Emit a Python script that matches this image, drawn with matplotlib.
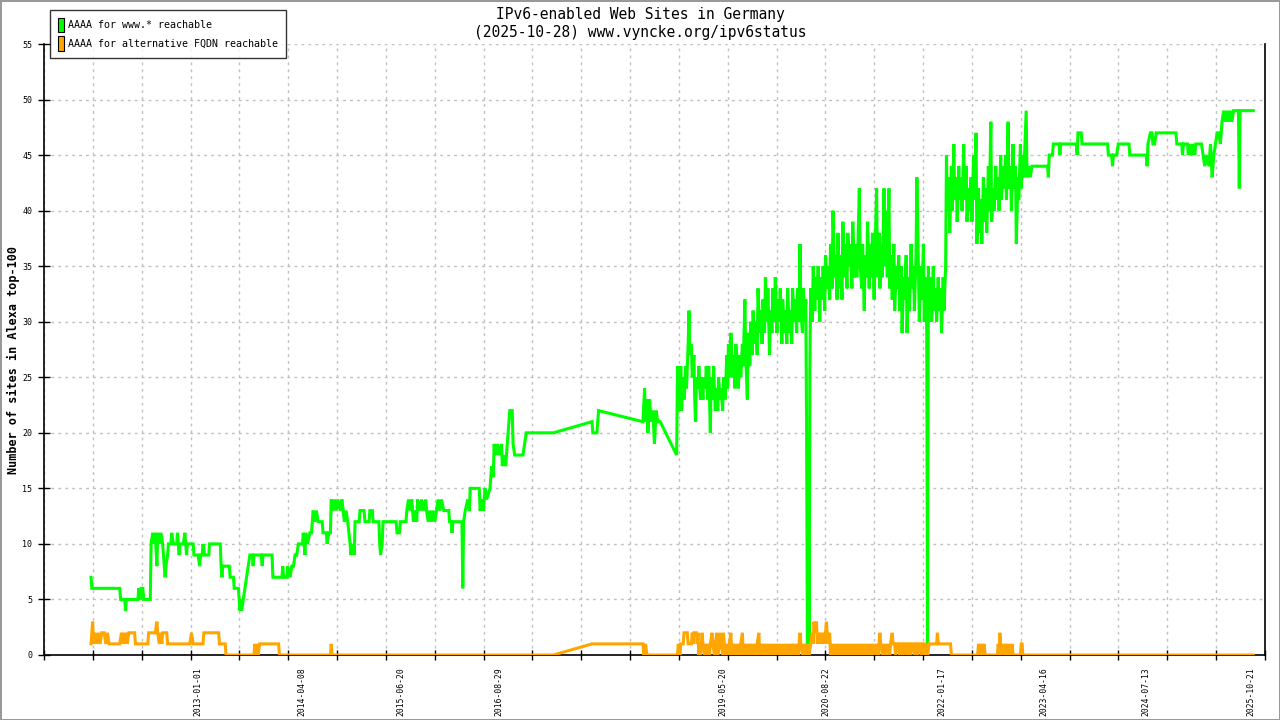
import datetime as dt
import numpy as np
import matplotlib
matplotlib.use("Agg")
import matplotlib.pyplot as plt
import matplotlib.dates as mdates
from matplotlib.patches import Patch

# Time is given in decimal years, values are number of sites
green_t = [
    2011.70, 2011.71, 2012.05, 2012.06, 2012.11, 2012.12, 2012.13, 2012.27, 2012.28, 2012.30,
    2012.31, 2012.33, 2012.34, 2012.42, 2012.43, 2012.45, 2012.46, 2012.48, 2012.50, 2012.51,
    2012.53, 2012.55, 2012.57, 2012.59, 2012.60, 2012.61, 2012.63, 2012.64, 2012.67, 2012.68,
    2012.70, 2012.74, 2012.75, 2012.77, 2012.78, 2012.82, 2012.84, 2012.86, 2012.87, 2012.94,
    2012.95, 2013.00, 2013.02, 2013.03, 2013.05, 2013.06, 2013.08, 2013.13, 2013.14, 2013.26,
    2013.27, 2013.28, 2013.29, 2013.30, 2013.38, 2013.39, 2013.43, 2013.44, 2013.49, 2013.51,
    2013.52, 2013.53, 2013.55, 2013.57, 2013.59, 2013.61, 2013.63, 2013.66, 2013.67, 2013.68,
    2013.77, 2013.78, 2013.79, 2013.90, 2013.91, 2014.02, 2014.03, 2014.04, 2014.08, 2014.09,
    2014.12, 2014.14, 2014.16, 2014.18, 2014.20, 2014.22, 2014.27, 2014.28, 2014.30, 2014.31,
    2014.33, 2014.36, 2014.38, 2014.40, 2014.42, 2014.44, 2014.46, 2014.51, 2014.52, 2014.56,
    2014.57, 2014.59, 2014.61, 2014.62, 2014.64, 2014.66, 2014.68, 2014.70, 2014.73, 2014.75,
    2014.78, 2014.80, 2014.82, 2014.85, 2014.86, 2014.88, 2014.90, 2014.91, 2014.96, 2014.97,
    2015.02, 2015.03, 2015.08, 2015.09, 2015.12, 2015.13, 2015.20, 2015.21, 2015.22, 2015.24,
    2015.25, 2015.41, 2015.42, 2015.45, 2015.46, 2015.53, 2015.54, 2015.56, 2015.58, 2015.60,
    2015.62, 2015.64, 2015.66, 2015.67, 2015.70, 2015.72, 2015.74, 2015.77, 2015.78, 2015.80,
    2015.82, 2015.84, 2015.86, 2015.88, 2015.90, 2015.92, 2015.94, 2015.96, 2015.99, 2016.05,
    2016.06, 2016.08, 2016.09, 2016.10, 2016.21, 2016.22, 2016.23, 2016.25, 2016.28, 2016.30,
    2016.31, 2016.36, 2016.42, 2016.43, 2016.45, 2016.47, 2016.49, 2016.51, 2016.55, 2016.57,
    2016.59, 2016.60, 2016.62, 2016.64, 2016.66, 2016.69, 2016.70, 2016.72, 2016.74, 2016.76,
    2016.78, 2016.79, 2016.82, 2016.83, 2016.85, 2016.87, 2016.95, 2016.97, 2016.99, 2017.32,
    2017.79, 2017.80, 2017.85, 2017.87, 2018.41, 2018.43, 2018.44, 2018.46, 2018.47, 2018.49,
    2018.51, 2018.53, 2018.55, 2018.57, 2018.59, 2018.62, 2018.82,
    2018.83, 2018.84, 2018.85, 2018.86, 2018.87, 2018.88, 2018.90, 2018.91, 2018.93, 2018.94,
    2018.95, 2018.96, 2018.97, 2018.98, 2019.00, 2019.01, 2019.03, 2019.04, 2019.05, 2019.06,
    2019.08, 2019.09, 2019.11, 2019.12, 2019.14, 2019.15, 2019.17, 2019.18, 2019.20, 2019.21,
    2019.23, 2019.24, 2019.26, 2019.27, 2019.29, 2019.30, 2019.32, 2019.33, 2019.35, 2019.36,
    2019.38, 2019.39, 2019.41, 2019.43, 2019.44, 2019.45, 2019.47, 2019.48, 2019.50, 2019.51,
    2019.53, 2019.54, 2019.56, 2019.57, 2019.59, 2019.60, 2019.62, 2019.63, 2019.65, 2019.66,
    2019.68, 2019.69, 2019.71, 2019.72, 2019.74, 2019.75, 2019.77, 2019.78, 2019.80, 2019.81,
    2019.83, 2019.84, 2019.86, 2019.87, 2019.89, 2019.90, 2019.92, 2019.93, 2019.95, 2019.96,
    2019.98, 2019.99, 2020.01, 2020.02, 2020.04, 2020.05, 2020.07, 2020.08, 2020.10, 2020.11,
    2020.13, 2020.14, 2020.16, 2020.17, 2020.19, 2020.20, 2020.22, 2020.23, 2020.25, 2020.26,
    2020.28, 2020.29, 2020.31, 2020.32, 2020.33, 2020.35, 2020.36, 2020.38, 2020.39, 2020.40,
    2020.41, 2020.42, 2020.43, 2020.44, 2020.45, 2020.47, 2020.48, 2020.50, 2020.51, 2020.53,
    2020.54, 2020.56, 2020.57, 2020.59, 2020.60, 2020.62, 2020.63, 2020.65, 2020.66, 2020.68,
    2020.69, 2020.71, 2020.72, 2020.74, 2020.75, 2020.77, 2020.78, 2020.80, 2020.81, 2020.83,
    2020.84, 2020.86, 2020.87, 2020.89, 2020.90, 2020.92, 2020.93, 2020.95, 2020.96, 2020.98,
    2020.99, 2021.01, 2021.02, 2021.04, 2021.05, 2021.07, 2021.08, 2021.10, 2021.11, 2021.13,
    2021.14, 2021.16, 2021.17, 2021.19, 2021.20, 2021.22, 2021.23, 2021.25, 2021.26, 2021.28,
    2021.29, 2021.31, 2021.32, 2021.34, 2021.35, 2021.37, 2021.38, 2021.40, 2021.41, 2021.43,
    2021.44, 2021.46, 2021.47, 2021.49, 2021.50, 2021.52, 2021.53, 2021.55, 2021.56, 2021.58,
    2021.59, 2021.61, 2021.62, 2021.64, 2021.65, 2021.67, 2021.68, 2021.70, 2021.71, 2021.73,
    2021.74, 2021.76, 2021.77, 2021.79, 2021.80, 2021.82, 2021.83, 2021.85, 2021.86, 2021.87,
    2021.88, 2021.89, 2021.91, 2021.92, 2021.94, 2021.95, 2021.97, 2021.98, 2022.00, 2022.01,
    2022.03, 2022.04, 2022.06, 2022.07, 2022.09, 2022.10, 2022.11, 2022.13, 2022.14, 2022.16,
    2022.17, 2022.19, 2022.20, 2022.22, 2022.23, 2022.25, 2022.26, 2022.28, 2022.29, 2022.31,
    2022.32, 2022.34, 2022.35, 2022.37, 2022.38, 2022.40, 2022.41, 2022.43, 2022.44, 2022.46,
    2022.47, 2022.49, 2022.50, 2022.52, 2022.53, 2022.55, 2022.56, 2022.58, 2022.59, 2022.61,
    2022.62, 2022.64, 2022.65, 2022.67, 2022.68, 2022.70, 2022.71, 2022.73, 2022.74, 2022.76,
    2022.77, 2022.79, 2022.80, 2022.82, 2022.83, 2022.85, 2022.86, 2022.88, 2022.89, 2022.91,
    2022.92, 2022.94, 2022.95, 2022.97, 2022.98, 2023.00, 2023.01, 2023.03, 2023.04, 2023.06,
    2023.07, 2023.08, 2023.10, 2023.12, 2023.14,
    2023.33, 2023.34, 2023.35, 2023.39, 2023.40, 2023.47, 2023.48, 2023.49, 2023.68, 2023.69,
    2023.70, 2023.74, 2023.75, 2024.06, 2024.07, 2024.11, 2024.12, 2024.13, 2024.17, 2024.19,
    2024.32, 2024.33, 2024.53, 2024.54, 2024.55, 2024.58, 2024.60, 2024.61, 2024.63, 2024.65,
    2024.89, 2024.90, 2024.96, 2024.97, 2024.98, 2025.03, 2025.04, 2025.05, 2025.08, 2025.09,
    2025.12, 2025.13, 2025.20, 2025.22, 2025.24, 2025.26, 2025.29, 2025.31, 2025.33, 2025.35,
    2025.37, 2025.39, 2025.41, 2025.43, 2025.45, 2025.47, 2025.49, 2025.51, 2025.53, 2025.55,
    2025.57, 2025.59, 2025.65, 2025.66, 2025.67, 2025.83,
]
green_v = [
    7, 6, 6, 5, 5, 4, 5, 5, 6, 5,
    6, 6, 5, 5, 10, 11, 10, 11, 8, 11,
    10, 11, 10, 8, 7, 8, 9, 10, 10, 11,
    10, 10, 11, 9, 10, 10, 11, 9, 10, 10,
    9, 9, 8, 9, 9, 10, 9, 9, 10, 10,
    10, 8, 7, 8, 8, 7, 7, 6, 6, 4,
    5, 4, 5, 6, 7, 8, 9, 9, 8, 9,
    9, 8, 9, 9, 7, 7, 8, 7, 7, 8,
    7, 8, 8, 9, 9, 10, 10, 11, 9, 11,
    10, 11, 11, 13, 12, 13, 12, 12, 11, 11,
    10, 11, 11, 14, 13, 14, 13, 14, 13, 14,
    12, 13, 12, 10, 9, 10, 9, 12, 12, 13,
    13, 12, 12, 13, 13, 12, 12, 10, 9, 10,
    12, 12, 11, 11, 12, 12, 13, 14, 13, 14,
    12, 13, 12, 14, 13, 14, 13, 14, 13, 12,
    13, 12, 13, 12, 13, 14, 13, 14, 13, 13,
    12, 12, 11, 12, 12, 6, 12, 13, 14, 13,
    15, 15, 15, 13, 14, 13, 15, 14, 15, 17,
    16, 19, 18, 19, 18, 19, 17, 18, 17, 19,
    21, 22, 22, 19, 18, 18, 18, 19, 20, 20,
    21, 20, 20, 22, 21, 24, 21, 23, 20, 23,
    21, 22, 19, 22, 21, 21, 18,
    26, 22, 25, 23, 26, 22, 25, 23, 26, 24,
    26, 28, 31, 27, 28, 25, 27, 23, 21, 25,
    24, 26, 23, 25, 23, 25, 24, 26, 23, 26,
    20, 25, 23, 26, 22, 24, 22, 25, 23, 24,
    22, 25, 23, 27, 24, 28, 25, 29, 25, 27,
    24, 28, 26, 24, 27, 25, 28, 26, 32, 27,
    23, 29, 26, 30, 27, 31, 28, 30, 27, 33,
    29, 31, 28, 32, 29, 34, 30, 33, 27, 31,
    29, 33, 30, 34, 29, 32, 30, 33, 28, 32,
    29, 31, 28, 33, 29, 31, 28, 33, 30, 32,
    29, 33, 30, 37, 31, 29, 33, 30, 32, 20,
    0, 15, 0, 26, 33, 30, 35, 31, 34, 32,
    35, 30, 34, 32, 35, 31, 36, 33, 35, 32,
    37, 33, 40, 34, 36, 32, 38, 33, 36, 32,
    39, 34, 37, 33, 38, 35, 37, 33, 39, 34,
    37, 34, 36, 42, 35, 33, 37, 31, 36, 34,
    39, 33, 37, 34, 38, 32, 36, 42, 34, 38,
    33, 37, 34, 42, 35, 40, 34, 42, 33, 36,
    32, 37, 31, 35, 33, 36, 31, 35, 29, 34,
    32, 36, 29, 34, 31, 37, 33, 35, 31, 36,
    43, 34, 30, 35, 32, 37, 30, 34, 29, 0,
    35, 31, 34, 30, 35, 31, 33, 30, 34, 31,
    33, 29, 34, 31, 35, 45, 40, 43, 38, 44,
    40, 46, 41, 43, 39, 44, 41, 43, 40, 46,
    41, 44, 39, 42, 40, 43, 39, 45, 41, 47,
    37, 42, 38, 41, 37, 43, 39, 42, 38, 44,
    40, 48, 39, 42, 40, 44, 41, 43, 40, 45,
    41, 44, 42, 45, 41, 48, 42, 44, 40, 46,
    42, 44, 37, 43, 41, 46, 42, 45, 43, 47,
    49, 43, 44, 43, 44,
    44, 43, 45, 45, 46, 46, 45, 46, 46, 45,
    47, 47, 46, 46, 45, 45, 44, 45, 45, 46,
    46, 45, 45, 44, 46, 47, 47, 46, 46, 47,
    47, 46, 46, 45, 46, 46, 45, 46, 45, 46,
    45, 46, 46, 45, 44, 45, 44, 46, 43, 45,
    46, 47, 47, 46, 48, 49, 48, 49, 48, 49,
    48, 49, 49, 42, 49, 49,
]

orange_t = [
    2011.70, 2011.71, 2011.72, 2011.73, 2011.75, 2011.77, 2011.79, 2011.81, 2011.83, 2011.86,
    2011.88, 2011.90, 2011.92, 2012.05, 2012.07, 2012.08, 2012.10, 2012.11, 2012.13, 2012.14,
    2012.16, 2012.23, 2012.24, 2012.39, 2012.40, 2012.48, 2012.50, 2012.51, 2012.53, 2012.55,
    2012.56, 2012.57, 2012.62, 2012.63, 2012.90, 2012.92, 2012.94, 2013.06, 2013.07, 2013.25,
    2013.26, 2013.33, 2013.34, 2013.68, 2013.69, 2013.70, 2013.72, 2013.73, 2013.75, 2013.98,
    2013.99, 2014.61, 2014.62, 2014.63, 2017.32, 2017.79, 2018.41, 2018.42, 2018.44, 2018.46,
    2018.83,
    2018.84, 2018.86, 2018.87, 2018.90, 2018.91, 2018.95, 2018.96, 2019.00, 2019.01, 2019.02,
    2019.03, 2019.06, 2019.07, 2019.08, 2019.09, 2019.10, 2019.11, 2019.12, 2019.13, 2019.14,
    2019.16, 2019.17, 2019.19, 2019.20, 2019.22, 2019.23, 2019.25, 2019.26, 2019.28, 2019.29,
    2019.31, 2019.32, 2019.34, 2019.35, 2019.36, 2019.38, 2019.39, 2019.40, 2019.42, 2019.43,
    2019.45, 2019.46, 2019.48, 2019.49, 2019.51, 2019.52, 2019.54, 2019.56, 2019.57, 2019.59,
    2019.60, 2019.62, 2019.63, 2019.65, 2019.66, 2019.68, 2019.70, 2019.71, 2019.73, 2019.74,
    2019.76, 2019.77, 2019.79, 2019.80, 2019.82, 2019.83, 2019.85, 2019.86, 2019.88, 2019.90,
    2019.91, 2019.93, 2019.94, 2019.96, 2019.97, 2019.99, 2020.00, 2020.02, 2020.03, 2020.05,
    2020.06, 2020.08, 2020.09, 2020.11, 2020.13, 2020.14, 2020.16, 2020.18, 2020.19, 2020.21,
    2020.22, 2020.24, 2020.25, 2020.27, 2020.28, 2020.30, 2020.31, 2020.32, 2020.33, 2020.35,
    2020.36, 2020.38, 2020.39, 2020.40, 2020.42, 2020.43, 2020.45, 2020.47, 2020.48, 2020.49,
    2020.50, 2020.52, 2020.53, 2020.55, 2020.56, 2020.58, 2020.59, 2020.61, 2020.62, 2020.64,
    2020.65, 2020.66, 2020.68, 2020.69, 2020.71, 2020.72, 2020.74, 2020.76, 2020.77, 2020.79,
    2020.80, 2020.82, 2020.83, 2020.85, 2020.86, 2020.88, 2020.89, 2020.91, 2020.92, 2020.94,
    2020.95, 2020.97, 2020.98, 2021.00, 2021.01, 2021.03, 2021.04, 2021.06, 2021.07, 2021.09,
    2021.10, 2021.12, 2021.13, 2021.15, 2021.16, 2021.18, 2021.19, 2021.21, 2021.22, 2021.24,
    2021.25, 2021.27, 2021.28, 2021.29, 2021.30, 2021.32, 2021.33, 2021.35, 2021.36, 2021.38,
    2021.39, 2021.41, 2021.42, 2021.44, 2021.45, 2021.47, 2021.48, 2021.50, 2021.51, 2021.53,
    2021.54, 2021.56, 2021.57, 2021.59, 2021.60, 2021.62, 2021.63, 2021.65, 2021.66, 2021.68,
    2021.69, 2021.71, 2021.72, 2021.74, 2021.75, 2021.77, 2021.78, 2021.80, 2021.81, 2021.83,
    2021.84, 2021.86, 2021.87, 2021.89, 2021.90, 2021.98, 2021.99, 2022.00, 2022.01, 2022.15,
    2022.16, 2022.48, 2022.49, 2022.50, 2022.51, 2022.53, 2022.54, 2022.55, 2022.56, 2022.57,
    2022.58, 2022.72, 2022.73, 2022.74, 2022.75, 2022.76, 2022.78, 2022.79, 2022.80, 2022.82,
    2022.83, 2022.84, 2022.86, 2022.87, 2022.88, 2022.90, 2022.91, 2022.92, 2023.00, 2023.01,
    2023.02, 2023.03, 2023.04, 2025.83,
]
orange_v = [
    1, 2, 3, 1, 2, 1, 2, 1, 2, 2,
    1, 2, 1, 1, 2, 1, 2, 1, 2, 1,
    2, 2, 1, 1, 2, 2, 3, 2, 1, 2,
    1, 2, 2, 1, 1, 2, 1, 1, 2, 2,
    1, 1, 0, 0, 1, 0, 1, 0, 1, 1,
    0, 0, 1, 0, 0, 1, 1, 0, 1, 0,
    0,
    1, 0, 1, 1, 2, 2, 1, 1, 2, 1,
    2, 2, 1, 2, 0, 1, 0, 1, 2, 1,
    0, 1, 0, 1, 0, 1, 2, 1, 0, 1,
    2, 0, 1, 2, 1, 0, 2, 1, 0, 1,
    0, 1, 2, 0, 1, 0, 1, 0, 1, 0,
    1, 2, 0, 1, 0, 1, 0, 1, 0, 1,
    0, 1, 0, 1, 2, 0, 1, 0, 1, 0,
    1, 0, 1, 0, 1, 0, 1, 0, 1, 0,
    1, 0, 1, 0, 1, 0, 1, 0, 1, 0,
    1, 0, 1, 0, 1, 0, 1, 2, 1, 0,
    1, 0, 1, 0, 1, 0, 1, 2, 1, 3,
    2, 3, 1, 2, 1, 2, 1, 2, 1, 3,
    2, 1, 2, 0, 1, 0, 1, 0, 1, 0,
    1, 0, 1, 0, 1, 0, 1, 0, 1, 0,
    1, 0, 1, 0, 1, 0, 1, 0, 1, 0,
    1, 0, 1, 0, 1, 0, 1, 0, 1, 0,
    1, 0, 1, 2, 1, 0, 1, 0, 1, 0,
    1, 0, 1, 2, 1, 1, 0, 1, 1, 0,
    1, 1, 0, 1, 1, 0, 1, 1, 0, 1,
    1, 0, 1, 1, 0, 1, 1, 0, 1, 1,
    0, 1, 0, 1, 1, 1, 2, 1, 1, 1,
    0, 0, 1, 0, 1, 0, 1, 0, 1, 0,
    0, 0, 1, 0, 2, 1, 0, 1, 0, 1,
    0, 1, 0, 1, 0, 1, 0, 0, 0, 1,
    1, 0, 0, 0,
]

label_dates = ["2013-01-01", "2014-04-08", "2015-06-20", "2016-08-29", "2019-05-20",
               "2020-08-22", "2022-01-17", "2023-04-16", "2024-07-13", "2025-10-21"]

title = "IPv6-enabled Web Sites in Germany\n(2025-10-28) www.vyncke.org/ipv6status"
ylabel = "Number of sites in Alexa top-100"
legend_labels = ["AAAA for www.* reachable", "AAAA for alternative FQDN reachable"]

GREEN = "#00ff00"
ORANGE = "#ffa500"
MONO = "DejaVu Sans Mono"


def to_date(y):
    year = int(y)
    start = dt.datetime(year, 1, 1)
    days = (dt.datetime(year + 1, 1, 1) - start).days
    return start + dt.timedelta(days=(y - year) * days)


def to_num(years):
    return mdates.date2num([to_date(y) for y in years])


fig = plt.figure(figsize=(12.8, 7.2), dpi=100)
fig.patch.set_facecolor("white")
fig.patch.set_edgecolor("#999999")
fig.patch.set_linewidth(2)

ax = fig.add_axes([44 / 1280, 65 / 720, 1221 / 1280, 611 / 720])

ax.plot(to_num(green_t), green_v, color=GREEN, lw=2.2, solid_joinstyle="miter", zorder=3)
ax.plot(to_num(orange_t), orange_v, color=ORANGE, lw=2.2, solid_joinstyle="miter", zorder=4)

x_left, x_right = to_num([2011.128, 2025.973])
ax.set_xlim(x_left, x_right)
ax.set_ylim(0, 55)

# evenly spaced tick marks with dashed grid, date labels placed separately
ax.set_xticks(np.linspace(x_left, x_right, 26))
ax.set_xticklabels([])
ax.tick_params(axis="x", which="major", direction="inout", length=7, width=1)
lab_pos = mdates.date2num([dt.datetime.strptime(d, "%Y-%m-%d") for d in label_dates])
ax.set_xticks(lab_pos, minor=True)
ax.set_xticklabels(label_dates, minor=True, rotation=90, fontsize=5.8, family=MONO)
ax.tick_params(axis="x", which="minor", length=0, pad=8.5)

ax.set_yticks(np.arange(0, 56, 5))
ax.set_yticklabels([str(v) for v in range(0, 56, 5)], fontsize=6, family=MONO)
ax.tick_params(axis="y", direction="inout", length=9, width=1, pad=4)

ax.grid(True, which="major", color="#c0c0c0", linestyle=(0, (2, 3)), linewidth=1)
ax.set_axisbelow(True)

ax.spines["top"].set_visible(False)
for s in ["left", "bottom", "right"]:
    ax.spines[s].set_linewidth(1.2)

fig.text(0.5, 1 - 23 / 720, title, ha="center", va="center", fontsize=10.5,
         family=MONO, linespacing=1.25)
fig.text(13 / 1280, 0.5, ylabel, rotation=90, ha="center", va="center",
         fontsize=8.5, family=MONO, fontweight="bold")

handles = [Patch(facecolor=GREEN, edgecolor="black", lw=0.8),
           Patch(facecolor=ORANGE, edgecolor="black", lw=0.8)]
leg = fig.legend(handles, legend_labels, loc="upper left",
                 bbox_to_anchor=(50 / 1280, 1 - 10 / 720),
                 prop={"family": MONO, "size": 7.2}, frameon=True, fancybox=False,
                 handlelength=0.6, handleheight=1.9, handletextpad=0.5,
                 labelspacing=0.35, borderpad=0.75, borderaxespad=0)
leg.get_frame().set_edgecolor("black")
leg.get_frame().set_linewidth(1)

fig.savefig("out.png", dpi=100)
